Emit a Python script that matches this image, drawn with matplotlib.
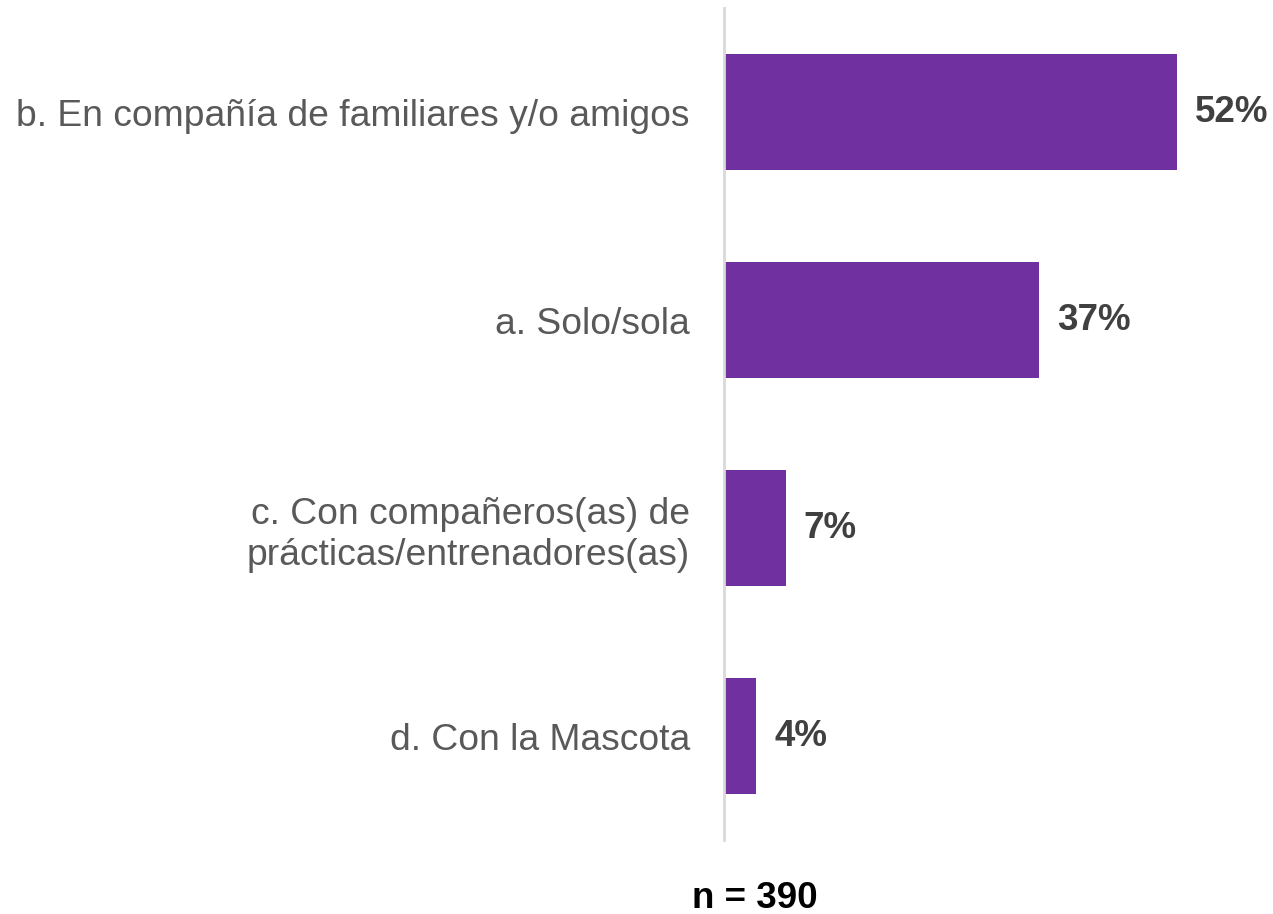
import matplotlib
matplotlib.use("Agg")
import matplotlib.pyplot as plt

categories = ["b. En compañía de familiares y/o amigos",
              "a. Solo/sola",
              "c. Con compañeros(as) de\nprácticas/entrenadores(as)",
              "d. Con la Mascota"]
values = [52.0, 36.2, 7.1, 3.7]
value_labels = ["52%", "37%", "7%", "4%"]
note = "n = 390"

plt.rcParams['font.family'] = ['Liberation Sans', 'DejaVu Sans']

fig = plt.figure(figsize=(12.73, 9.14), dpi=100)
ax = fig.add_axes([724/1273, (914-840)/914, 1 - 724/1273, 832/914])

pos = list(range(len(categories)))
ax.barh(pos, values, height=0.553, color="#7030A0", left=0)
ax.set_xlim(0, 63)
ax.set_ylim(3.5, -0.5)

for p, v, lab in zip(pos, values, value_labels):
    ax.annotate(lab, (v, p), xytext=(18, -1), textcoords="offset pixels",
                ha="left", va="center", fontsize=26.5, fontweight="bold", color="#404040")

ax.set_yticks(pos)
ax.set_yticklabels(categories, fontsize=26.8, color="#595959", ha="right", linespacing=1.22)
ax.tick_params(axis="y", length=0, pad=24.5)
ax.set_xticks([])
for s in ["top", "right", "bottom"]:
    ax.spines[s].set_visible(False)
ax.spines["left"].set_color("#D9D9D9")
ax.spines["left"].set_linewidth(2)

fig.text(755/1273, 1 - 898/914, note, ha="center", va="center", fontsize=26.5,
         fontweight="bold", color="black")

fig.savefig("out.png", dpi=100)
